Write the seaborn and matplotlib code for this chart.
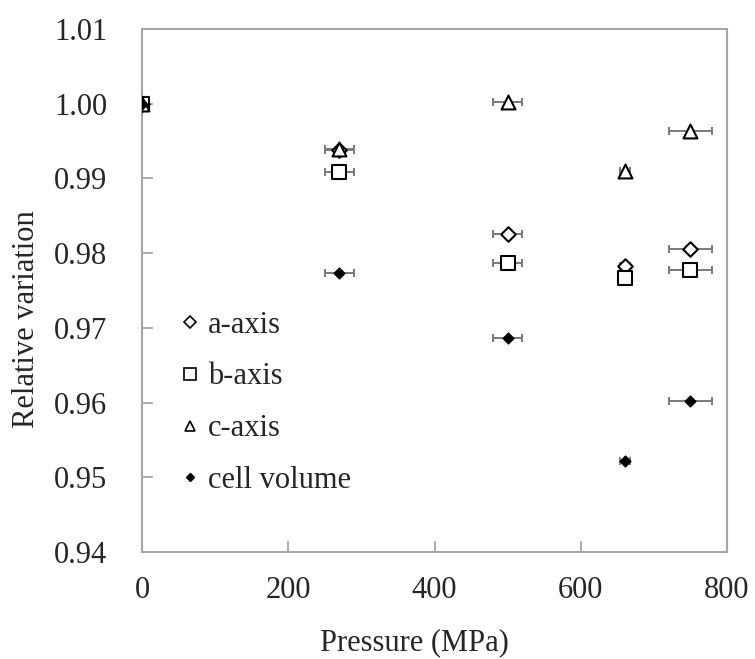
import matplotlib
matplotlib.use("Agg")
import matplotlib.pyplot as plt
from matplotlib.lines import Line2D
import seaborn as sns
import pandas as pd

# pressure points (MPa) and horizontal uncertainty
pressure = [0, 270, 500, 660, 750]
pressure_err = [3, 20, 20, 7, 30]

a_axis = [1.0000, 0.9938, 0.9826, 0.9783, 0.9806]
b_axis = [1.0000, 0.9909, 0.9787, 0.9767, 0.9778]
c_axis = [1.0000, 0.9939, 1.0003, 0.9910, 0.9964]
cell_volume = [1.0000, 0.9774, 0.9686, 0.9522, 0.9602]

labels = ["a-axis", "b-axis", "c-axis", "cell volume"]

sns.set_style("white")
plt.rcParams["font.family"] = ["Liberation Serif", "DejaVu Serif"]

fig, ax = plt.subplots(figsize=(7.55, 6.59), dpi=100)
fig.subplots_adjust(left=0.188, right=0.963, top=0.956, bottom=0.162)

series = [a_axis, b_axis, c_axis, cell_volume]
styles = [
    dict(marker="D", s=55, facecolor="white", edgecolor="black", linewidth=1.5),
    dict(marker="s", s=90, facecolor="white", edgecolor="black", linewidth=1.5),
    dict(marker="^", s=100, facecolor="white", edgecolor="black", linewidth=1.5),
    dict(marker="D", s=30, facecolor="black", edgecolor="black", linewidth=1),
]

for vals, lab, st in zip(series, labels, styles):
    df = pd.DataFrame({"Pressure": pressure, "Value": vals, "err": pressure_err})
    ax.errorbar(df["Pressure"], df["Value"], xerr=df["err"], fmt="none",
                ecolor="#7a7a7a", elinewidth=1.4, capsize=3, capthick=1.4, zorder=2)
    sns.scatterplot(data=df, x="Pressure", y="Value", ax=ax, zorder=3, legend=False, **st)

ax.set_xlim(0, 800)
ax.set_ylim(0.94, 1.01)
ax.set_xticks([0, 200, 400, 600, 800])
ax.set_yticks([0.94, 0.95, 0.96, 0.97, 0.98, 0.99, 1.00, 1.01])
ax.set_yticklabels([f"{v:.2f}" for v in ax.get_yticks()])
ax.tick_params(axis="both", direction="in", length=8, width=1.3, color="#a6a6a6",
               labelsize=22, left=True, bottom=True, top=False, right=False)
ax.tick_params(axis="x", pad=17)
ax.tick_params(axis="y", pad=25)
for sp in ax.spines.values():
    sp.set_color("#a6a6a6")
    sp.set_linewidth(1.5)

ax.set_xlabel("Pressure (MPa)", fontsize=22)
ax.set_ylabel("Relative variation", fontsize=22)
ax.xaxis.set_label_coords(0.465, -0.145)
ax.yaxis.set_label_coords(-0.173, 0.445)

handles = [
    Line2D([], [], ls="none", marker="D", ms=6, mfc="white", mec="black", mew=1.2),
    Line2D([], [], ls="none", marker="s", ms=8, mfc="white", mec="black", mew=1.2),
    Line2D([], [], ls="none", marker="^", ms=7, mfc="white", mec="black", mew=1.2),
    Line2D([], [], ls="none", marker="D", ms=4.5, mfc="black", mec="black"),
]
ax.legend(handles, labels, loc="upper left", bbox_to_anchor=(0.045, 0.485),
          frameon=False, fontsize=22, handlelength=0.6, handletextpad=0.3,
          labelspacing=0.745, borderaxespad=0)

fig.savefig("out.png", dpi=100)
